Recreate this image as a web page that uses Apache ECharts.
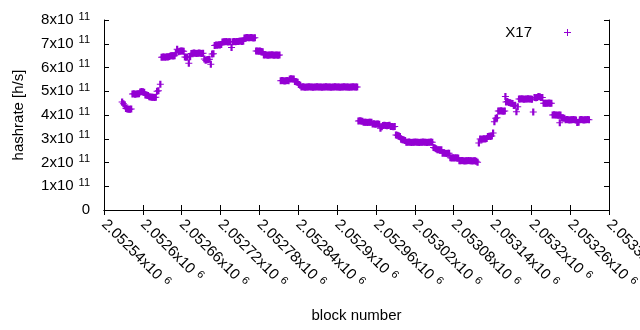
<!DOCTYPE html>
<html>
<head>
<meta charset="utf-8">
<script src="https://cdn.jsdelivr.net/npm/echarts@6/dist/echarts.min.js"></script>
<style>
  html, body { margin: 0; padding: 0; background: #fff; }
  #chart { width: 640px; height: 330px; }
</style>
</head>
<body>
<div id="chart"></div>
<script>
// block numbers and hashrate (in units of 1e11 h/s)
const blockNumbers = [
  2052568, 2052570, 2052572,
  2052574, 2052576, 2052578, 2052580, 2052582,
  2052584, 2052586, 2052588, 2052590, 2052592, 2052594,
  2052596, 2052598, 2052600, 2052602,
  2052604, 2052606, 2052608,
  2052610, 2052612, 2052614, 2052616, 2052618, 2052620,
  2052622, 2052624, 2052627,
  2052629, 2052631, 2052633, 2052635, 2052637, 2052639, 2052641,
  2052643, 2052645, 2052647, 2052649,
  2052651, 2052653, 2052655, 2052657, 2052659, 2052661, 2052663,
  2052665, 2052667, 2052669, 2052671, 2052673,
  2052675, 2052677, 2052679, 2052681, 2052683, 2052685, 2052687, 2052689, 2052691, 2052693,
  2052695, 2052697, 2052699, 2052701, 2052703, 2052705,
  2052707, 2052709,
  2052711, 2052713, 2052715, 2052717, 2052719, 2052721,
  2052723, 2052725, 2052727, 2052729, 2052731, 2052733, 2052735, 2052737,
  2052739, 2052741, 2052743, 2052745, 2052747, 2052749, 2052751, 2052753, 2052755,
  2052757, 2052759, 2052761, 2052763, 2052765, 2052767, 2052769, 2052771, 2052773,
  2052775, 2052777, 2052779, 2052781, 2052783, 2052785,
  2052787, 2052789, 2052791, 2052793, 2052795, 2052797, 2052799, 2052801, 2052803, 2052805, 2052807, 2052809, 2052811,
  2052813, 2052815, 2052817, 2052819, 2052821, 2052823, 2052825,
  2052827, 2052829, 2052831, 2052833,
  2052835, 2052837, 2052839, 2052841, 2052843,
  2052845, 2052847, 2052849, 2052851, 2052853, 2052855, 2052857, 2052859, 2052861, 2052863, 2052865,
  2052867, 2052869, 2052871, 2052873, 2052875, 2052877, 2052879, 2052881, 2052883, 2052885, 2052887,
  2052889, 2052891, 2052893, 2052895, 2052897, 2052899, 2052901, 2052903, 2052905, 2052907, 2052909,
  2052911, 2052913, 2052915, 2052917, 2052919, 2052921, 2052923, 2052925, 2052927, 2052929, 2052931,
  2052933, 2052935, 2052937, 2052939,
  2052941, 2052943, 2052945, 2052947, 2052949, 2052951, 2052953,
  2052955, 2052957, 2052959, 2052961, 2052963, 2052965,
  2052967, 2052969,
  2052971, 2052973, 2052975, 2052977, 2052979, 2052981,
  2052983, 2052985, 2052987, 2052989,
  2052991, 2052993, 2052995, 2052997,
  2052999, 2053001, 2053003, 2053005,
  2053007, 2053009, 2053011, 2053013, 2053015, 2053017, 2053019, 2053021, 2053023, 2053025, 2053027,
  2053029, 2053031, 2053033, 2053035, 2053037, 2053039, 2053041, 2053043, 2053045, 2053047,
  2053049, 2053051, 2053053,
  2053055, 2053057, 2053059, 2053061,
  2053063, 2053065, 2053067, 2053069, 2053071, 2053073,
  2053075, 2053077, 2053079, 2053081, 2053083, 2053085, 2053087,
  2053089, 2053091, 2053093, 2053095, 2053097, 2053099, 2053101, 2053103, 2053105, 2053107, 2053109, 2053111, 2053113,
  2053115, 2053117, 2053119,
  2053121, 2053123, 2053125, 2053127, 2053129, 2053131,
  2053133, 2053135, 2053137, 2053139, 2053141,
  2053143, 2053145, 2053147,
  2053149, 2053151, 2053153, 2053155, 2053157, 2053159,
  2053160, 2053161, 2053163, 2053165, 2053167,
  2053169, 2053171, 2053173, 2053175, 2053177, 2053179,
  2053181, 2053183, 2053185, 2053187, 2053189, 2053191, 2053193, 2053195, 2053197, 2053199, 2053201,
  2053203,
  2053205, 2053207, 2053209, 2053211, 2053213, 2053215, 2053217,
  2053219, 2053221, 2053223, 2053225, 2053227, 2053229, 2053231,
  2053233, 2053235, 2053237, 2053239, 2053241, 2053243, 2053244, 2053245,
  2053247, 2053249, 2053251,
  2053253, 2053255, 2053257, 2053259, 2053261, 2053263, 2053265, 2053267, 2053269,
  2053271, 2053273,
  2053275, 2053277, 2053279, 2053281, 2053283, 2053285, 2053287, 2053289
];

const hashrates = [
  4.55, 4.47, 4.42,
  4.27, 4.25, 4.24, 4.24, 4.25,
  4.88, 4.89, 4.87, 4.88, 4.90, 4.89,
  4.97, 4.99, 4.98, 4.96,
  4.84, 4.83, 4.82,
  4.77, 4.76, 4.75, 4.75, 4.74, 4.75,
  5.00, 5.02, 5.30,
  6.43, 6.44, 6.44, 6.43, 6.45, 6.44, 6.46,
  6.49, 6.50, 6.48, 6.50,
  6.62, 6.77, 6.66, 6.68, 6.69, 6.70, 6.68,
  6.44, 6.43, 6.44, 6.18, 6.45,
  6.59, 6.60, 6.61, 6.60, 6.59, 6.60, 6.61, 6.60, 6.59, 6.60,
  6.36, 6.31, 6.33, 6.34, 6.35, 6.14,
  6.57, 6.58,
  6.93, 6.95, 6.94, 6.96, 6.95, 6.97,
  7.07, 7.08, 7.08, 7.09, 7.07, 7.08, 7.08, 6.84,
  7.08, 7.09, 7.08, 7.10, 7.09, 7.11, 7.12, 7.10, 7.11,
  7.24, 7.25, 7.26, 7.25, 7.25, 7.26, 7.25, 7.24, 7.25,
  6.69, 6.70, 6.68, 6.69, 6.67, 6.66,
  6.53, 6.54, 6.53, 6.52, 6.53, 6.53, 6.54, 6.53, 6.52, 6.53, 6.53, 6.52, 6.53,
  5.44, 5.45, 5.44, 5.43, 5.44, 5.45, 5.44,
  5.52, 5.53, 5.52, 5.52,
  5.41, 5.40, 5.38, 5.28, 5.25,
  5.18, 5.19, 5.18, 5.17, 5.18, 5.18, 5.19, 5.18, 5.18, 5.17, 5.18,
  5.18, 5.19, 5.18, 5.18, 5.18, 5.17, 5.18, 5.18, 5.19, 5.18, 5.18,
  5.18, 5.17, 5.18, 5.18, 5.19, 5.18, 5.18, 5.18, 5.17, 5.18, 5.18,
  5.19, 5.18, 5.18, 5.18, 5.17, 5.18, 5.18, 5.19, 5.18, 5.18, 5.18,
  3.75, 3.76, 3.75, 3.74,
  3.69, 3.70, 3.69, 3.68, 3.69, 3.70, 3.69,
  3.62, 3.63, 3.61, 3.62, 3.62, 3.61,
  3.44, 3.51,
  3.56, 3.57, 3.56, 3.55, 3.56, 3.57,
  3.52, 3.52, 3.51, 3.52,
  3.16, 3.15, 3.13, 3.10,
  2.98, 2.96, 2.95, 2.93,
  2.85, 2.85, 2.86, 2.85, 2.84, 2.85, 2.85, 2.86, 2.85, 2.85, 2.84,
  2.85, 2.85, 2.86, 2.85, 2.85, 2.84, 2.85, 2.85, 2.86, 2.85,
  2.63, 2.61, 2.58,
  2.54, 2.54, 2.53, 2.54,
  2.39, 2.40, 2.39, 2.38, 2.39, 2.39,
  2.20, 2.19, 2.20, 2.19, 2.20, 2.19, 2.19,
  2.07, 2.07, 2.08, 2.07, 2.06, 2.07, 2.07, 2.08, 2.07, 2.07, 2.06, 2.07, 2.07,
  2.05, 2.01, 2.82,
  2.99, 2.98, 2.99, 3.00, 2.99, 3.01,
  3.10, 3.11, 3.10, 3.12, 3.24,
  3.72, 3.86, 3.88,
  4.17, 4.17, 4.18, 4.17, 4.16, 4.17,
  4.78, 4.55, 4.57, 4.53, 4.52,
  4.49, 4.48, 4.40, 4.41, 4.14, 4.35,
  4.67, 4.67, 4.68, 4.67, 4.66, 4.67, 4.67, 4.68, 4.67, 4.67, 4.66,
  4.13,
  4.74, 4.73, 4.74, 4.78, 4.77, 4.74, 4.74,
  4.50, 4.50, 4.49, 4.50, 4.51, 4.50, 4.50,
  4.00, 4.01, 4.00, 4.00, 3.99, 4.00, 3.67, 4.00,
  3.87, 3.87, 3.86,
  3.80, 3.81, 3.80, 3.79, 3.80, 3.80, 3.81, 3.80, 3.79,
  3.68, 3.69,
  3.80, 3.81, 3.80, 3.79, 3.80, 3.80, 3.81, 3.80
];

const seriesName = 'X17';
const xTitle = 'block number';
const yTitle = 'hashrate [h/s]';
const xMin = 2052540;
const xMax = 2053320;
const xStep = 60;
const yTicks = [0, 1, 2, 3, 4, 5, 6, 7, 8];

// gnuplot style "+" point; the vertical bar is wider so dense runs fill in solid
const plus = 'path://M0,3H2.4V0H4.6V3H7V4H4.6V7H2.4V4H0Z';
const legendPlus = 'path://M0,3H3V0H4V3H7V4H4V7H3V4H0Z';
const font = "'Liberation Sans', Arial, sans-serif";
const purple = '#9400d3';

const chart = echarts.init(document.getElementById('chart'), null, { renderer: 'canvas' });

const supRich = (size) => ({
  m: { fontSize: size, fontFamily: font, color: '#000', lineHeight: 18 },
  s: { fontSize: 11, fontFamily: font, color: '#000', lineHeight: 11, verticalAlign: 'top', padding: [0, 0, 0, 5] }
});

chart.setOption({
  animation: false,
  backgroundColor: '#fff',
  textStyle: { fontFamily: font },
  grid: { left: 104, right: 31, top: 20, bottom: 120, containLabel: false, outerBoundsMode: 'none' },
  legend: {
    right: 64,
    top: 20,
    align: 'right',
    itemWidth: 7,
    itemHeight: 7,
    textStyle: { fontSize: 15, color: '#000', padding: [0, 27, 0, 0] },
    data: [{ name: seriesName, icon: legendPlus }]
  },
  xAxis: [
    {
      type: 'value',
      min: xMin,
      max: xMax,
      interval: xStep,
      name: xTitle,
      nameLocation: 'middle',
      nameGap: 98,
      nameTextStyle: { fontSize: 15, color: '#000' },
      axisLine: { lineStyle: { color: '#000', width: 1 } },
      axisTick: { inside: true, length: 5, lineStyle: { color: '#000' } },
      splitLine: { show: false },
      axisLabel: {
        rotate: -45,
        margin: 12,
        showMinLabel: true,
        showMaxLabel: true,
        hideOverlap: false,
        formatter: (v) => '{m|' + (v / 1e6) + 'x10}{s|6}',
        rich: supRich(15)
      }
    },
    {
      type: 'value',
      position: 'top',
      min: xMin,
      max: xMax,
      interval: xStep,
      axisLine: { lineStyle: { color: '#000', width: 1 } },
      axisTick: { inside: true, length: 5, lineStyle: { color: '#000' } },
      axisLabel: { show: false },
      splitLine: { show: false }
    }
  ],
  yAxis: [
    {
      type: 'value',
      min: yTicks[0],
      max: yTicks[yTicks.length - 1],
      interval: 1,
      name: yTitle,
      nameLocation: 'middle',
      nameGap: 78,
      nameTextStyle: { fontSize: 15, color: '#000' },
      axisLine: { show: true, lineStyle: { color: '#000', width: 1 } },
      axisTick: { show: true, inside: true, length: 5, lineStyle: { color: '#000' } },
      splitLine: { show: false },
      axisLabel: {
        margin: 14,
        formatter: (v) => v === 0 ? '{m|0}' : '{m|' + v + 'x10}{s|11}',
        rich: supRich(15)
      }
    },
    {
      type: 'value',
      position: 'right',
      min: yTicks[0],
      max: yTicks[yTicks.length - 1],
      interval: 1,
      axisLine: { show: true, lineStyle: { color: '#000', width: 1 } },
      axisTick: { show: true, inside: true, length: 5, lineStyle: { color: '#000' } },
      axisLabel: { show: false },
      splitLine: { show: false }
    }
  ],
  series: [
    {
      name: seriesName,
      type: 'scatter',
      symbol: plus,
      symbolSize: 7,
      itemStyle: { color: purple, opacity: 1 },
      data: blockNumbers.map((b, i) => [b, hashrates[i]])
    }
  ]
});
</script>
</body>
</html>
